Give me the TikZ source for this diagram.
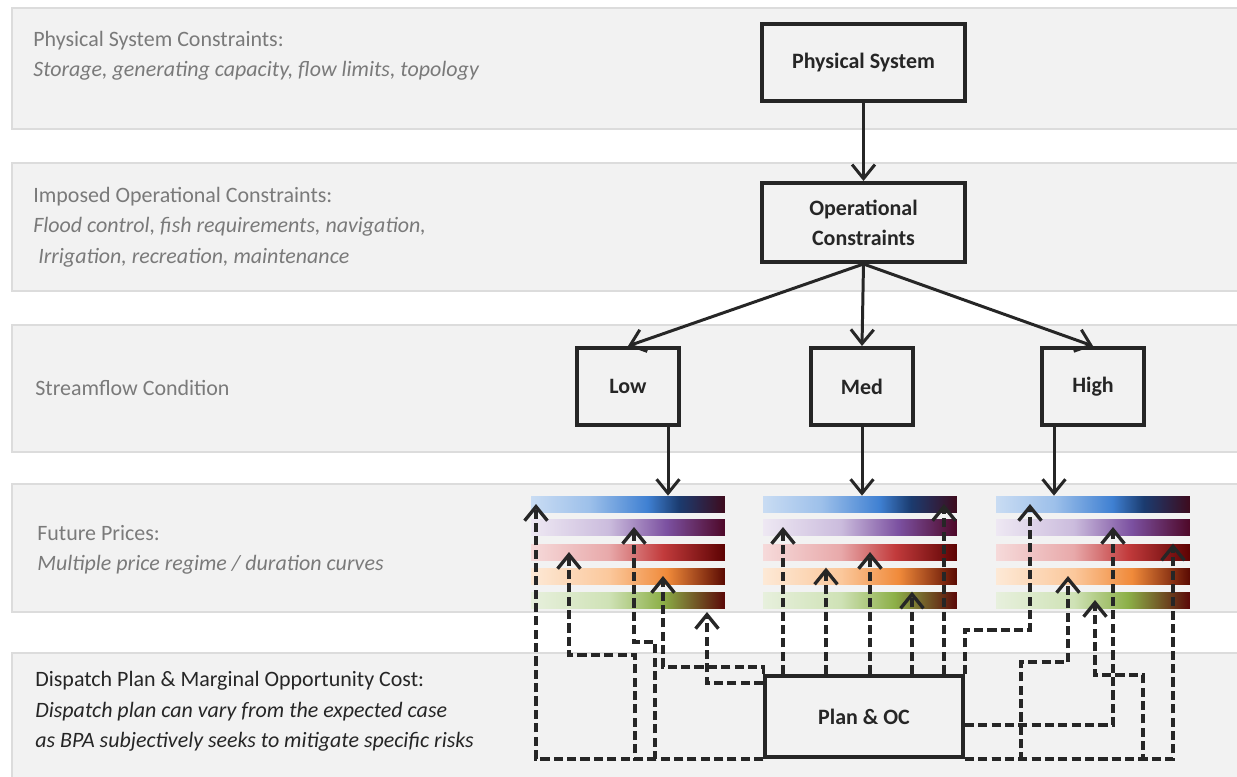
\documentclass[tikz,border=0pt]{standalone}
\usepackage{fontspec}
\setmainfont{Carlito}
\usetikzlibrary{arrows.meta,positioning}
\definecolor{bandfill}{HTML}{F2F2F2}
\definecolor{bandline}{HTML}{DCDCDC}
\definecolor{ink}{HTML}{262626}
\definecolor{noteclr}{HTML}{7A7A7A}
\definecolor{blueA}{HTML}{C9DCF3}\definecolor{blueB}{HTML}{9DC0EA}\definecolor{blueC}{HTML}{3F80D2}
\definecolor{blueD}{HTML}{1B3C70}\definecolor{blueE}{HTML}{3E0B1D}
\definecolor{purpA}{HTML}{EEE8F3}\definecolor{purpB}{HTML}{CBBCDD}\definecolor{purpC}{HTML}{7B50A0}
\definecolor{purpE}{HTML}{4E0828}
\definecolor{redA}{HTML}{F6DADA}\definecolor{redB}{HTML}{E8A9AA}\definecolor{redC}{HTML}{C23B3C}
\definecolor{redE}{HTML}{5C0202}
\definecolor{orA}{HTML}{FDE9D6}\definecolor{orB}{HTML}{FBC89C}\definecolor{orC}{HTML}{F08A3A}
\definecolor{orE}{HTML}{5A0A02}
\definecolor{grA}{HTML}{E7F0DD}\definecolor{grB}{HTML}{CFE2B6}\definecolor{grC}{HTML}{8CAF47}
\definecolor{grE}{HTML}{5A0808}
\pgfdeclarehorizontalshading{blueband}{100bp}{color(0bp)=(blueA); color(25bp)=(blueA); color(40bp)=(blueB); color(55bp)=(blueC); color(63bp)=(blueD); color(75bp)=(blueE); color(100bp)=(blueE)}
\pgfdeclarehorizontalshading{purpleband}{100bp}{color(0bp)=(purpA); color(25bp)=(purpA); color(45bp)=(purpB); color(60bp)=(purpC); color(75bp)=(purpE); color(100bp)=(purpE)}
\pgfdeclarehorizontalshading{redband}{100bp}{color(0bp)=(redA); color(25bp)=(redA); color(45bp)=(redB); color(59bp)=(redC); color(75bp)=(redE); color(100bp)=(redE)}
\pgfdeclarehorizontalshading{orangeband}{100bp}{color(0bp)=(orA); color(25bp)=(orA); color(45bp)=(orB); color(60bp)=(orC); color(75bp)=(orE); color(100bp)=(orE)}
\pgfdeclarehorizontalshading{greenband}{100bp}{color(0bp)=(grA); color(25bp)=(grA); color(45bp)=(grB); color(59bp)=(grC); color(75bp)=(grE); color(100bp)=(grE)}
\begin{document}
\begin{tikzpicture}[x=0.02cm,y=-0.02cm,
    font=\fontsize{12.5}{17}\selectfont,
    band/.style={fill=bandfill,draw=bandline,line width=0.8pt},
    note/.style={anchor=base west,inner sep=0pt,text=noteclr},
    notei/.style={note,font=\fontsize{12.5}{17}\selectfont\itshape},
    head/.style={note,text=ink},
    headi/.style={notei,text=ink},
    box/.style={draw=ink,fill=bandfill,line width=2.3pt,align=center,inner sep=0pt,
      text=ink,font=\fontsize{12.5}{17}\selectfont\bfseries},
    bar/.style={minimum width=3.88cm,minimum height=0.32cm,inner sep=0pt},
    link/.style={draw=ink,line width=1.7pt,-{Straight Barb[length=8pt,width=13pt]}},
    dlink/.style={link,line width=1.9pt,dash pattern=on 5.2pt off 2.4pt}]
  \useasboundingbox (0,0) rectangle (1237,777);
  \fill[white] (0,0) rectangle (1237,777);
  \draw[band] (12,8) rectangle (1245,129);
  \draw[band] (12,163) rectangle (1245,291);
  \draw[band] (12,325) rectangle (1245,452);
  \draw[band] (12,484) rectangle (1245,612);
  \draw[band] (12,653) rectangle (1245,790);

  \node[note] (phys-head) at (33,47) {Physical System Constraints:};
  \node[notei] (phys-note) at (33,77) {Storage, generating capacity, flow limits, topology};
  \node[note] (oper-head) at (33,202) {Imposed Operational Constraints:};
  \node[notei] (oper-note) at (33,232) {Flood control, fish requirements, navigation,};
  \node[notei] (oper-more) at (38,263) {Irrigation, recreation, maintenance};
  \node[note] (flow-head) at (35,395) {Streamflow Condition};
  \node[note] (price-head) at (37,540) {Future Prices:};
  \node[notei] (price-note) at (37,570) {Multiple price regime / duration curves};
  \node[head] (plan-head) at (35,686) {Dispatch Plan \& Marginal Opportunity Cost:};
  \node[headi] (plan-note) at (35,717) {Dispatch plan can vary from the expected case};
  \node[headi] (plan-more) at (35,747) {as BPA subjectively seeks to mitigate specific risks};

  \node[box,minimum width=4.06cm,minimum height=1.54cm] (phys) at (863.5,62.5) {Physical System};
  \node[box,minimum width=4.06cm,minimum height=1.58cm] (oper) at (863.5,222.5) {Operational\\Constraints};
  \node[box,minimum width=2.04cm,minimum height=1.54cm] (low) at (628,386.5) {Low};
  \node[box,minimum width=2.04cm,minimum height=1.54cm] (med) at (862,386.5) {Med};
  \node[box,minimum width=2.04cm,minimum height=1.54cm] (high) at (1093,386.5) {High};
  \node[box,minimum width=3.96cm,minimum height=1.62cm,line width=2.1pt] (plan) at (864,716.5) {Plan \& OC};

  \foreach \grp/\gx in {low/628,med/860,high/1093}
    \foreach \shd/\gy [count=\i] in {blueband/504,purpleband/527,redband/552,orangeband/576,greenband/600}
      \node[bar,shading=\shd] (\grp\i) at (\gx,\gy) {};

  \draw[link] (phys) -- (oper);
  \draw[link] (oper.south) -- (low.north);
  \draw[link] (oper.south) -- (med.north);
  \draw[link] (oper.south) -- (high.north);
  \draw[link] (low.south -| 668,0) -- (668,0 |- low1.north);
  \draw[link] (med.south) -- (med.south |- med1.north);
  \draw[link] (high.south -| 1054,0) -- (1054,0 |- high1.north);

  \draw[dlink] (plan.south west) -| (536,0 |- low1.center);
  \draw[dlink] (plan.south west) -| (635,655) -| (569,0 |- low3.center);
  \draw[dlink] (plan.south west) -| (655,642) -| (634,0 |- low2.center);
  \draw[dlink] (plan.north west) |- (663,667) -- (663,0 |- low4.center);
  \draw[dlink] (plan.west |- 0,683) -| (707,612);
  \foreach \dx/\tgt in {783/med2.center,826/med4.north,870/med3.center,912/med5.north,944/med1.center}
    \draw[dlink] (plan.north -| \dx,0) -- (\dx,0 |- \tgt);
  \draw[dlink] (plan.north east) |- (1030,630) -- (1030,0 |- high1.center);
  \draw[dlink] (plan.south east) -| (1021,662) -| (1068,0 |- high4.center);
  \draw[dlink] (plan.east |- 0,725) -| (1113,0 |- high2.center);
  \draw[dlink] (plan.south east) -| (1143,675) -| (1095,0 |- high5.center);
  \draw[dlink] (plan.south east) -| (1173,0 |- high3.north);
\end{tikzpicture}
\end{document}
